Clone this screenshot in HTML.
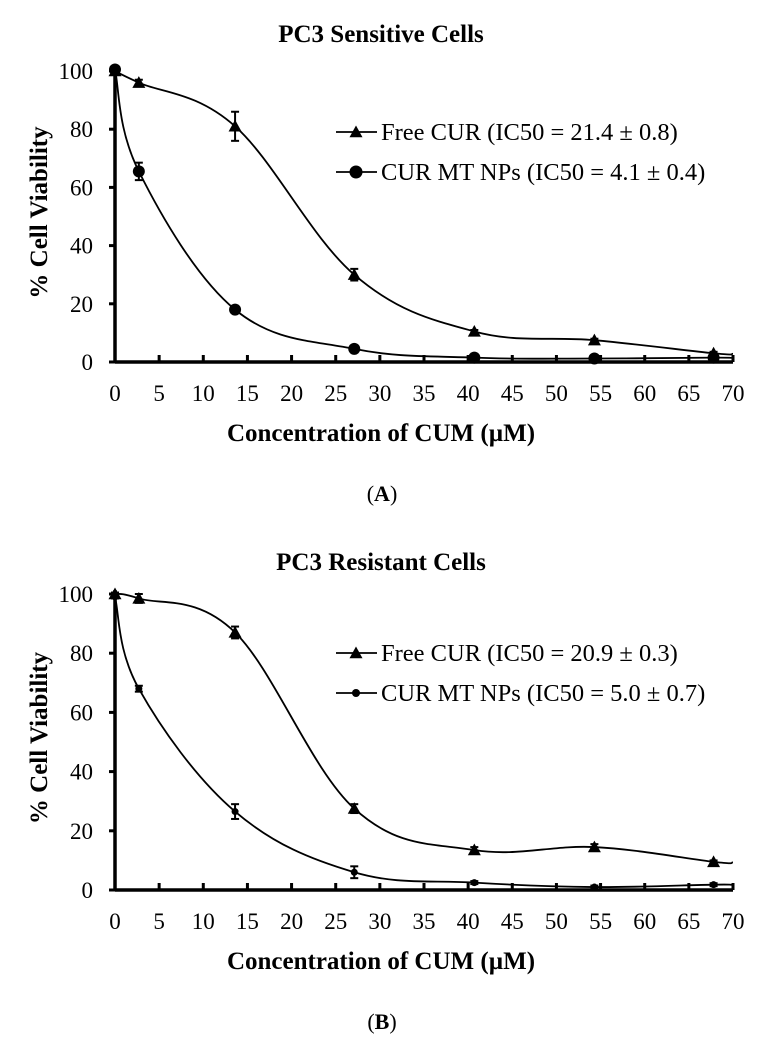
<!DOCTYPE html>
<html><head><meta charset="utf-8"><style>
html,body{margin:0;padding:0;background:#fff;}
svg{display:block;font-family:"Liberation Serif",serif;}
</style></head><body>
<svg id="fig" width="772" height="1045" viewBox="0 0 772 1045"></svg>
<script>
const xValues = [0, 2.7, 13.6, 27.1, 40.7, 54.3, 67.8];
const xTicks = [0,5,10,15,20,25,30,35,40,45,50,55,60,65,70];
const yTicks = [0,20,40,60,80,100];
const freeA = [100, 96, 81, 30, 10.5, 7.5, 3];
const freeAErr = [0.5, 1, 5, 2, 0.5, 0.5, 0.5];
const npA = [100.5, 65.5, 18, 4.5, 1.5, 1.2, 1.5];
const npAErr = [0.5, 3, 1, 0.5, 0.3, 0.3, 0.3];
const freeB = [100, 98.5, 87, 27.5, 13.5, 14.5, 9.5];
const freeBErr = [0.5, 1.5, 2, 1.5, 1, 1, 0.5];
const npB = [99, 68, 26.5, 6, 2.5, 1, 1.8];
const npBErr = [0.5, 1, 2.5, 2, 0.5, 0.5, 0.5];

const NS = "http://www.w3.org/2000/svg";
const svg = document.getElementById('fig');
function mk(tag, attrs, parent){
  const e = document.createElementNS(NS, tag);
  for (const k in attrs) e.setAttribute(k, attrs[k]);
  (parent||svg).appendChild(e);
  return e;
}
function smoothPath(pts){
  let d = `M${pts[0][0]},${pts[0][1]}`;
  for (let i=0;i<pts.length-1;i++){
    const p0 = pts[i-1]||pts[i], p1=pts[i], p2=pts[i+1], p3=pts[i+2]||p2;
    const t=0.18;
    const c1=[p1[0]+(p2[0]-p0[0])*t, p1[1]+(p2[1]-p0[1])*t];
    const c2=[p2[0]-(p3[0]-p1[0])*t, p2[1]-(p3[1]-p1[1])*t];
    d += ` C${c1[0]},${c1[1]} ${c2[0]},${c2[1]} ${p2[0]},${p2[1]}`;
  }
  return d;
}
function tri(g,x,y,s){ return mk('polygon',{points:`${x},${y-s} ${x-s},${y+s*0.8} ${x+s},${y+s*0.8}`,fill:'#000'},g); }

function panel(cfg){
  const g = mk('g',{});
  
  
  const x0=115, x1=733, y0=cfg.y0, y1=cfg.y100;
  const sx = v => x0 + (v/70)*(x1-x0);
  const sy = v => y0 - (v/100)*(y0-y1);
  const t = mk('text',{x:381,y:cfg.titleY,'text-anchor':'middle','font-size':25,'font-weight':'bold'},g);
  t.textContent = cfg.title;
  
  
  mk('line',{x1:x0,y1:y0,x2:x1,y2:y0,stroke:'#000','stroke-width':3.5},g);
  mk('line',{x1:x0,y1:y0+1.5,x2:x0,y2:y1-4,stroke:'#000','stroke-width':3.5},g);
  yTicks.forEach(v=>{
    mk('line',{x1:x0-6,y1:sy(v),x2:x0,y2:sy(v),stroke:'#000','stroke-width':3},g);
    const l = mk('text',{x:93,y:sy(v)+8,'text-anchor':'end','font-size':23},g);
    l.textContent = v;
    
    
  });
  xTicks.forEach(v=>{
    mk('line',{x1:sx(v),y1:y0,x2:sx(v),y2:y0-7,stroke:'#000','stroke-width':3},g);
    const l = mk('text',{x:sx(v),y:y0+39,'text-anchor':'middle','font-size':23},g);
    l.textContent = v;
    
    
  });
  const yl = mk('text',{x:0,y:0,transform:`translate(47,${(y0+y1)/2-4}) rotate(-90)`,'text-anchor':'middle','font-size':25,'font-weight':'bold'},g);
  yl.textContent = '% Cell Viability';
  
  
  const xl = mk('text',{x:381,y:y0+79,'text-anchor':'middle','font-size':25,'font-weight':'bold'},g);
  xl.textContent = 'Concentration of CUM (\u00b5M)';
  
  
  const pl = mk('text',{x:382,y:y0+139,'text-anchor':'middle','font-size':22},g);
  pl.innerHTML = '(<tspan font-weight="bold">'+cfg.letter+'</tspan>)';
  
  

  cfg.series.forEach(s=>{
    const sg = mk('g',{},g);
    
    
    const pts = xValues.map((x,i)=>[sx(x),sy(s.vals[i])]);
    pts.push([sx(70), sy(s.vals[s.vals.length-1]) + 0.5]);
    mk('path',{d:smoothPath(pts),fill:'none',stroke:'#000','stroke-width':1.8},sg);
    xValues.forEach((x,i)=>{
      const cx=sx(x), cy=sy(s.vals[i]), e=s.err[i]*(y0-y1)/100;
      mk('line',{x1:cx,y1:cy-e,x2:cx,y2:cy+e,stroke:'#000','stroke-width':2},sg);
      mk('line',{x1:cx-4,y1:cy-e,x2:cx+4,y2:cy-e,stroke:'#000','stroke-width':2},sg);
      mk('line',{x1:cx-4,y1:cy+e,x2:cx+4,y2:cy+e,stroke:'#000','stroke-width':2},sg);
      if (s.marker==='tri') tri(sg,cx,cy,6.5);
      else mk('circle',{cx:cx,cy:cy,r:s.r,fill:'#000'},sg);
    });
  });
  cfg.series.forEach((s,i)=>{
    const ly = cfg.legY + i*40;
    const lg = mk('g',{},g);
    
    
    mk('line',{x1:336,y1:ly,x2:377,y2:ly,stroke:'#000','stroke-width':1.8},lg);
    if (s.marker==='tri') tri(lg,356,ly,6.5); else mk('circle',{cx:356,cy:ly,r:s.r+0.5,fill:'#000'},lg);
    const tx = mk('text',{x:381,y:ly+8,'font-size':24.5},lg);
    tx.textContent = s.label;
  });
}
panel({name:'chart-a',title:'PC3 Sensitive Cells',titleY:42,y0:362,y100:71,letter:'A',legY:132,
  series:[
    {name:'series-free-cur',vals:freeA,err:freeAErr,marker:'tri',label:'Free CUR (IC50 = 21.4 \u00b1 0.8)'},
    {name:'series-cur-mt-nps',vals:npA,err:npAErr,marker:'circ',r:6,label:'CUR MT NPs (IC50 = 4.1 \u00b1 0.4)'}
  ]});
panel({name:'chart-b',title:'PC3 Resistant Cells',titleY:570,y0:890,y100:594,letter:'B',legY:653,
  series:[
    {name:'series-free-cur',vals:freeB,err:freeBErr,marker:'tri',label:'Free CUR (IC50 = 20.9 \u00b1 0.3)'},
    {name:'series-cur-mt-nps',vals:npB,err:npBErr,marker:'circ',r:3.5,label:'CUR MT NPs (IC50 = 5.0 \u00b1 0.7)'}
  ]});
</script>
</body></html>
